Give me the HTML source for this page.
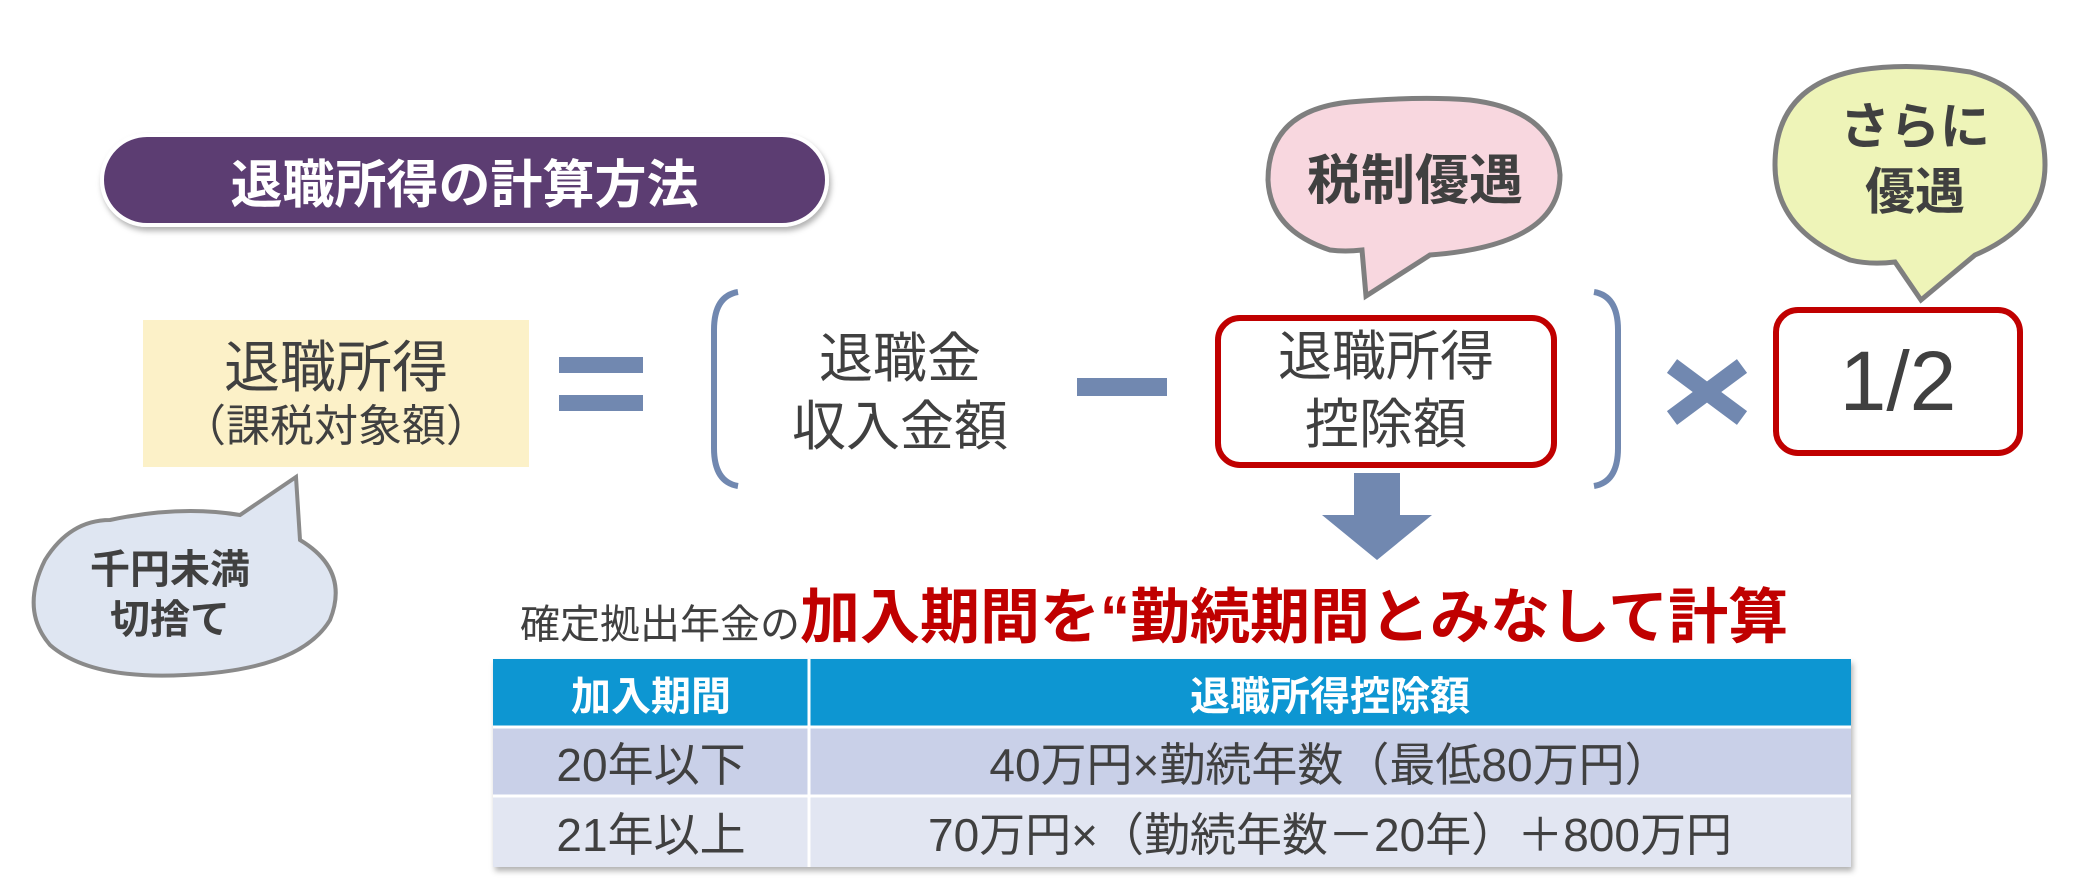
<!DOCTYPE html>
<html><head><meta charset="utf-8"><style>
*{margin:0;padding:0;box-sizing:border-box}
body{width:2090px;height:894px;background:#fff;position:relative;overflow:hidden;font-family:"Liberation Sans","Noto Sans CJK JP",sans-serif;color:#404040}
.a{position:absolute}
.c{display:flex;align-items:center;justify-content:center;text-align:center;white-space:nowrap}
</style></head><body>
<svg class="a" style="left:0;top:0" width="2090" height="894">
 <defs><filter id="sh" x="-10%" y="-10%" width="120%" height="130%"><feDropShadow dx="2" dy="4" stdDeviation="3" flood-color="#000" flood-opacity="0.3"/></filter></defs>
 <rect x="102" y="135" width="725" height="90" rx="45" fill="#5b3e72" stroke="#fff" stroke-width="4" filter="url(#sh)"/>
 <rect x="143" y="320" width="386" height="147" fill="#fcf1c8"/>
 <rect x="559" y="357" width="84" height="16" fill="#7188b0"/>
 <rect x="559" y="395" width="84" height="16" fill="#7188b0"/>
 <path d="M738 292 Q714 296 714 330 L714 448 Q714 482 738 486" fill="none" stroke="#7188b0" stroke-width="6"/>
 <path d="M1594 292 Q1618 296 1618 330 L1618 448 Q1618 482 1594 486" fill="none" stroke="#7188b0" stroke-width="6"/>
 <rect x="1077" y="378" width="90" height="18" fill="#7188b0"/>
 <path d="M1672 366 L1742 418 M1742 366 L1672 418" stroke="#7188b0" stroke-width="17"/>
 <path d="M1354 473 H1400 V515 H1432 L1377 560 L1322 515 H1354 Z" fill="#7188b0"/>
 <path d="M110 520 Q70 520 45 560 Q20 610 50 645 Q90 680 185 675 Q300 670 330 620 Q350 570 300 540 L296 477 L240 515 Q180 505 110 520 Z" fill="#dfe6f2" stroke="#8a8a8a" stroke-width="4"/>
 <path d="M1330 250 Q1270 230 1268 180 Q1268 110 1350 102 Q1420 96 1470 100 Q1555 110 1560 175 Q1560 245 1430 255 L1366 296 L1362 250 Q1345 252 1330 250 Z" fill="#f8d7df" stroke="#7f7f7f" stroke-width="5"/>
 <path d="M1850 260 Q1775 230 1775 165 Q1775 85 1860 70 Q1910 62 1970 72 Q2045 92 2045 165 Q2045 225 1975 255 L1921 300 L1895 262 Q1870 265 1850 260 Z" fill="#eef4b8" stroke="#7f7f7f" stroke-width="5"/>
 <rect x="1218" y="318" width="336" height="147" rx="22" fill="#fff" stroke="#c00000" stroke-width="6"/>
 <rect x="1776" y="310" width="244" height="143" rx="22" fill="#fff" stroke="#c00000" stroke-width="6"/>
 <g filter="url(#sh)">
 <rect x="493" y="659" width="1358" height="68" fill="#0a96d2"/>
 <rect x="493" y="727" width="1358" height="69" fill="#c9d0e8"/>
 <rect x="493" y="796" width="1358" height="71" fill="#e2e6f2"/>
 </g>
 <line x1="493" y1="727" x2="1851" y2="727" stroke="#fff" stroke-width="3"/>
 <line x1="493" y1="796" x2="1851" y2="796" stroke="#fff" stroke-width="3"/>
 <line x1="809" y1="659" x2="809" y2="867" stroke="#fff" stroke-width="3"/>
</svg>
<div class="a c" style="left:102px;top:135px;width:725px;height:90px;color:#fff;font-weight:bold;font-size:52px">退職所得の計算方法</div>
<div class="a c" style="left:143px;top:320px;width:386px;height:147px;flex-direction:column;line-height:1.2"><div style="font-size:56px">退職所得</div><div style="font-size:44px">（課税対象額）</div></div>
<div class="a c" style="left:760px;top:320px;width:280px;height:147px;font-size:54px;line-height:1.25">退職金<br>収入金額</div>
<div class="a c" style="left:1218px;top:318px;width:336px;height:147px;font-size:54px;line-height:1.25">退職所得<br>控除額</div>
<div class="a c" style="left:1776px;top:310px;width:244px;height:143px;font-size:84px">1/2</div>
<div class="a c" style="left:1290px;top:130px;width:250px;height:90px;font-size:54px;font-weight:bold">税制優遇</div>
<div class="a c" style="left:1800px;top:95px;width:230px;height:130px;font-size:50px;font-weight:bold;line-height:1.3">さらに<br>優遇</div>
<div class="a c" style="left:60px;top:545px;width:220px;height:100px;font-size:40px;font-weight:bold;line-height:1.25">千円未満<br>切捨て</div>
<div class="a" style="left:520px;top:588px;font-size:40px;white-space:nowrap;line-height:60px">確定拠出年金の<span style="color:#c00000;font-weight:bold;font-size:60px">加入期間を“勤続期間とみなして計算</span></div>
<div class="a c" style="left:493px;top:659px;width:316px;height:68px;color:#fff;font-weight:bold;font-size:40px">加入期間</div>
<div class="a c" style="left:809px;top:659px;width:1042px;height:68px;color:#fff;font-weight:bold;font-size:40px">退職所得控除額</div>
<div class="a c" style="left:493px;top:727px;width:316px;height:69px;font-size:46px">20年以下</div>
<div class="a c" style="left:809px;top:727px;width:1042px;height:69px;font-size:46px">40万円×勤続年数（最低80万円）</div>
<div class="a c" style="left:493px;top:796px;width:316px;height:71px;font-size:46px">21年以上</div>
<div class="a c" style="left:809px;top:796px;width:1042px;height:71px;font-size:46px">70万円×（勤続年数－20年）＋800万円</div>
</body></html>
